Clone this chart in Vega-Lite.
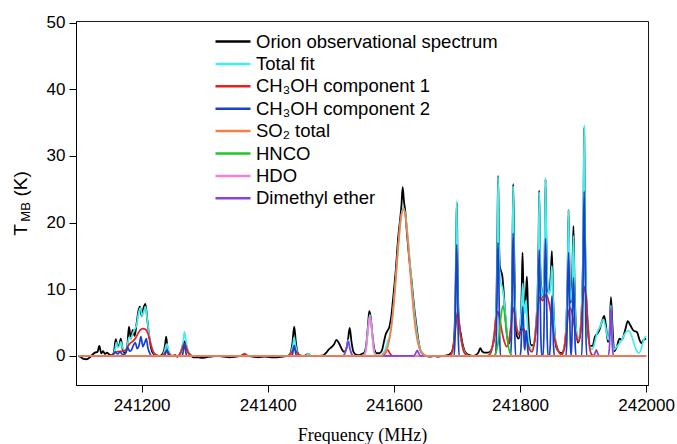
{
"$schema": "https://vega.github.io/schema/vega-lite/v6.json",
"width": 572, "height": 364,
"autosize": {"type": "none"},
"padding": {"left": 76, "top": 21, "right": 29, "bottom": 59},
"background": "white",
"config": {"view": {"stroke": "#1a1a1a", "strokeWidth": 1}, "font": "Liberation Sans"},
"layer": [
{
"data": {"values": [
{"s":"obs","f":241100,"T":0},{"s":"obs","f":241104,"T":-0.2},{"s":"obs","f":241108,"T":-0.45},{"s":"obs","f":241113,"T":-0.5},{"s":"obs","f":241118,"T":-0.2},{"s":"obs","f":241122,"T":0.2},{"s":"obs","f":241126,"T":0.5},{"s":"obs","f":241130,"T":0.6},{"s":"obs","f":241133,"T":1.5},{"s":"obs","f":241136,"T":0.4},{"s":"obs","f":241139,"T":0.7},{"s":"obs","f":241142,"T":0.3},{"s":"obs","f":241145,"T":0.5},{"s":"obs","f":241149,"T":0.2},{"s":"obs","f":241153,"T":0.1},{"s":"obs","f":241156,"T":0.5},{"s":"obs","f":241159,"T":2.5},{"s":"obs","f":241162,"T":1.4},{"s":"obs","f":241165,"T":1.8},{"s":"obs","f":241167,"T":2.6},{"s":"obs","f":241170,"T":1.0},{"s":"obs","f":241174,"T":0.4},{"s":"obs","f":241177,"T":1.2},{"s":"obs","f":241180,"T":4.4},{"s":"obs","f":241183,"T":2.6},{"s":"obs","f":241186,"T":3.9},{"s":"obs","f":241189,"T":3.0},{"s":"obs","f":241192,"T":4.8},{"s":"obs","f":241195,"T":6.8},{"s":"obs","f":241197.5,"T":7.4},{"s":"obs","f":241200,"T":6.0},{"s":"obs","f":241203,"T":7.2},{"s":"obs","f":241206,"T":7.8},{"s":"obs","f":241209,"T":5.5},{"s":"obs","f":241212,"T":3.0},{"s":"obs","f":241215,"T":1.2},{"s":"obs","f":241219,"T":0.3},{"s":"obs","f":241224,"T":0.1},{"s":"obs","f":241229,"T":0},{"s":"obs","f":241234,"T":0.4},{"s":"obs","f":241237,"T":1.5},{"s":"obs","f":241239,"T":2.9},{"s":"obs","f":241241,"T":1.2},{"s":"obs","f":241244,"T":0.3},{"s":"obs","f":241248,"T":0},{"s":"obs","f":241253,"T":0.1},{"s":"obs","f":241257,"T":-0.1},{"s":"obs","f":241261,"T":0.3},{"s":"obs","f":241264,"T":1.1},{"s":"obs","f":241267,"T":2.2},{"s":"obs","f":241270,"T":1.8},{"s":"obs","f":241273,"T":0.7},{"s":"obs","f":241277,"T":0.2},{"s":"obs","f":241282,"T":-0.2},{"s":"obs","f":241290,"T":-0.2},{"s":"obs","f":241296,"T":-0.3},{"s":"obs","f":241302,"T":-0.2},{"s":"obs","f":241310,"T":-0.1},{"s":"obs","f":241320,"T":0},{"s":"obs","f":241330,"T":-0.1},{"s":"obs","f":241340,"T":-0.2},{"s":"obs","f":241350,"T":-0.1},{"s":"obs","f":241358,"T":0},{"s":"obs","f":241363,"T":0.3},{"s":"obs","f":241368,"T":0},{"s":"obs","f":241376,"T":-0.1},{"s":"obs","f":241385,"T":-0.2},{"s":"obs","f":241395,"T":-0.1},{"s":"obs","f":241405,"T":-0.2},{"s":"obs","f":241415,"T":-0.2},{"s":"obs","f":241424,"T":-0.1},{"s":"obs","f":241432,"T":0},{"s":"obs","f":241436,"T":0.4},{"s":"obs","f":241439,"T":1.8},{"s":"obs","f":241442,"T":4.4},{"s":"obs","f":241444.5,"T":2.2},{"s":"obs","f":241447,"T":0.6},{"s":"obs","f":241451,"T":0.1},{"s":"obs","f":241458,"T":0},{"s":"obs","f":241464,"T":0.3},{"s":"obs","f":241468,"T":0},{"s":"obs","f":241478,"T":0},{"s":"obs","f":241488,"T":0.1},{"s":"obs","f":241493,"T":0.5},{"s":"obs","f":241497,"T":1.0},{"s":"obs","f":241501,"T":1.3},{"s":"obs","f":241505,"T":1.7},{"s":"obs","f":241509,"T":2.4},{"s":"obs","f":241513,"T":1.9},{"s":"obs","f":241517,"T":1.1},{"s":"obs","f":241521,"T":0.6},{"s":"obs","f":241524,"T":0.9},{"s":"obs","f":241527,"T":2.2},{"s":"obs","f":241530,"T":4.2},{"s":"obs","f":241533,"T":2.0},{"s":"obs","f":241536,"T":0.6},{"s":"obs","f":241540,"T":0.2},{"s":"obs","f":241545,"T":0.1},{"s":"obs","f":241549,"T":0.3},{"s":"obs","f":241553,"T":0.5},{"s":"obs","f":241556,"T":1.5},{"s":"obs","f":241559,"T":4.5},{"s":"obs","f":241561,"T":6.7},{"s":"obs","f":241563,"T":6.0},{"s":"obs","f":241566,"T":3.2},{"s":"obs","f":241569,"T":1.0},{"s":"obs","f":241573,"T":0.4},{"s":"obs","f":241577,"T":0.4},{"s":"obs","f":241581,"T":0.8},{"s":"obs","f":241584,"T":2.0},{"s":"obs","f":241587,"T":3.2},{"s":"obs","f":241590,"T":3.8},{"s":"obs","f":241593,"T":4.4},{"s":"obs","f":241596,"T":6.0},{"s":"obs","f":241599,"T":8.8},{"s":"obs","f":241603,"T":12.8},{"s":"obs","f":241607,"T":17.9},{"s":"obs","f":241610,"T":20.5},{"s":"obs","f":241612,"T":22.5},{"s":"obs","f":241614,"T":25.3},{"s":"obs","f":241616,"T":23.2},{"s":"obs","f":241618,"T":21.8},{"s":"obs","f":241621,"T":18.2},{"s":"obs","f":241624,"T":15.0},{"s":"obs","f":241628,"T":11.4},{"s":"obs","f":241632,"T":7.5},{"s":"obs","f":241636,"T":4.4},{"s":"obs","f":241639,"T":2.3},{"s":"obs","f":241642,"T":0.9},{"s":"obs","f":241646,"T":0.3},{"s":"obs","f":241651,"T":0},{"s":"obs","f":241657,"T":-0.1},{"s":"obs","f":241664,"T":0},{"s":"obs","f":241671,"T":-0.1},{"s":"obs","f":241678,"T":0},{"s":"obs","f":241684,"T":0.1},{"s":"obs","f":241688,"T":0.2},{"s":"obs","f":241692,"T":0.6},{"s":"obs","f":241695,"T":2.0},{"s":"obs","f":241697.5,"T":8.0},{"s":"obs","f":241699,"T":18.0},{"s":"obs","f":241699.8,"T":23.0},{"s":"obs","f":241700.8,"T":16.0},{"s":"obs","f":241702,"T":8.0},{"s":"obs","f":241704,"T":4.5},{"s":"obs","f":241706,"T":3.4},{"s":"obs","f":241709,"T":1.8},{"s":"obs","f":241712,"T":0.8},{"s":"obs","f":241716,"T":0.3},{"s":"obs","f":241721,"T":0.1},{"s":"obs","f":241726,"T":0},{"s":"obs","f":241731,"T":0.2},{"s":"obs","f":241734,"T":0.5},{"s":"obs","f":241737,"T":1.15},{"s":"obs","f":241740,"T":0.7},{"s":"obs","f":241744,"T":0.5},{"s":"obs","f":241748,"T":0.5},{"s":"obs","f":241752,"T":0.6},{"s":"obs","f":241755,"T":1.0},{"s":"obs","f":241758,"T":2.0},{"s":"obs","f":241761,"T":4.5},{"s":"obs","f":241763,"T":10.0},{"s":"obs","f":241764.3,"T":19.0},{"s":"obs","f":241765.3,"T":27.0},{"s":"obs","f":241766.5,"T":19.0},{"s":"obs","f":241768,"T":13.5},{"s":"obs","f":241770,"T":12.7},{"s":"obs","f":241772,"T":12.0},{"s":"obs","f":241774,"T":9.8},{"s":"obs","f":241776,"T":7.0},{"s":"obs","f":241779,"T":3.5},{"s":"obs","f":241782,"T":1.8},{"s":"obs","f":241785,"T":3.0},{"s":"obs","f":241787.5,"T":10.0},{"s":"obs","f":241789.3,"T":25.8},{"s":"obs","f":241790.7,"T":16.0},{"s":"obs","f":241792.5,"T":7.0},{"s":"obs","f":241795,"T":3.0},{"s":"obs","f":241798,"T":2.6},{"s":"obs","f":241801,"T":5.0},{"s":"obs","f":241802.8,"T":10.0},{"s":"obs","f":241804,"T":15.5},{"s":"obs","f":241805.5,"T":10.0},{"s":"obs","f":241807.3,"T":7.0},{"s":"obs","f":241809.5,"T":9.5},{"s":"obs","f":241811,"T":11.9},{"s":"obs","f":241812.7,"T":7.0},{"s":"obs","f":241815,"T":2.8},{"s":"obs","f":241818,"T":1.6},{"s":"obs","f":241822,"T":1.6},{"s":"obs","f":241825,"T":4.0},{"s":"obs","f":241828,"T":9.5},{"s":"obs","f":241829.5,"T":17.0},{"s":"obs","f":241830.5,"T":24.8},{"s":"obs","f":241831.8,"T":15.0},{"s":"obs","f":241834,"T":10.0},{"s":"obs","f":241836.5,"T":8.8},{"s":"obs","f":241839,"T":14.0},{"s":"obs","f":241840.5,"T":26.5},{"s":"obs","f":241842,"T":16.0},{"s":"obs","f":241844,"T":10.0},{"s":"obs","f":241846.5,"T":9.5},{"s":"obs","f":241849,"T":12.5},{"s":"obs","f":241850.6,"T":15.7},{"s":"obs","f":241852.5,"T":9.0},{"s":"obs","f":241855,"T":3.5},{"s":"obs","f":241858,"T":1.2},{"s":"obs","f":241862,"T":0.6},{"s":"obs","f":241866,"T":0.4},{"s":"obs","f":241870,"T":1.2},{"s":"obs","f":241873,"T":4.0},{"s":"obs","f":241875.5,"T":12.0},{"s":"obs","f":241877,"T":21.9},{"s":"obs","f":241878.5,"T":13.0},{"s":"obs","f":241880.5,"T":8.0},{"s":"obs","f":241883,"T":12.5},{"s":"obs","f":241884.8,"T":19.5},{"s":"obs","f":241886.5,"T":11.0},{"s":"obs","f":241889,"T":4.0},{"s":"obs","f":241892,"T":2.0},{"s":"obs","f":241895,"T":3.0},{"s":"obs","f":241898,"T":7.5},{"s":"obs","f":241900.5,"T":18.0},{"s":"obs","f":241901.8,"T":34.2},{"s":"obs","f":241903,"T":20.0},{"s":"obs","f":241905,"T":9.0},{"s":"obs","f":241908,"T":3.5},{"s":"obs","f":241911,"T":1.5},{"s":"obs","f":241915,"T":1.5},{"s":"obs","f":241919,"T":2.9},{"s":"obs","f":241923,"T":3.4},{"s":"obs","f":241926,"T":3.9},{"s":"obs","f":241930,"T":5.2},{"s":"obs","f":241933.5,"T":6.0},{"s":"obs","f":241936.5,"T":4.4},{"s":"obs","f":241939.5,"T":2.1},{"s":"obs","f":241942,"T":3.4},{"s":"obs","f":241944.2,"T":8.8},{"s":"obs","f":241946.7,"T":4.4},{"s":"obs","f":241949.4,"T":0.7},{"s":"obs","f":241953.7,"T":1.4},{"s":"obs","f":241957.8,"T":2.6},{"s":"obs","f":241961.6,"T":2.4},{"s":"obs","f":241966.8,"T":3.9},{"s":"obs","f":241971,"T":5.2},{"s":"obs","f":241975,"T":4.6},{"s":"obs","f":241980,"T":3.8},{"s":"obs","f":241985.4,"T":3.6},{"s":"obs","f":241989.6,"T":2.4},{"s":"obs","f":241992.5,"T":1.9},{"s":"obs","f":241996,"T":2.4},{"s":"obs","f":242000,"T":2.6},

{"s":"fit","f":241100,"T":0},{"s":"fit","f":241150,"T":0},{"s":"fit","f":241155,"T":0.3},{"s":"fit","f":241158,"T":1.0},{"s":"fit","f":241160,"T":2.0},{"s":"fit","f":241162,"T":1.3},{"s":"fit","f":241165,"T":1.5},{"s":"fit","f":241167,"T":2.1},{"s":"fit","f":241170,"T":1.2},{"s":"fit","f":241174,"T":0.8},{"s":"fit","f":241177,"T":1.3},{"s":"fit","f":241180,"T":2.8},{"s":"fit","f":241183,"T":2.6},{"s":"fit","f":241186,"T":3.4},{"s":"fit","f":241189,"T":4.0},{"s":"fit","f":241192,"T":4.6},{"s":"fit","f":241195,"T":6.3},{"s":"fit","f":241198,"T":7.2},{"s":"fit","f":241201,"T":6.0},{"s":"fit","f":241204,"T":6.8},{"s":"fit","f":241206,"T":7.4},{"s":"fit","f":241209,"T":5.5},{"s":"fit","f":241212,"T":3.2},{"s":"fit","f":241216,"T":1.4},{"s":"fit","f":241220,"T":0.4},{"s":"fit","f":241226,"T":0},{"s":"fit","f":241233,"T":0},{"s":"fit","f":241236,"T":0.6},{"s":"fit","f":241240,"T":1.8},{"s":"fit","f":241243,"T":0.8},{"s":"fit","f":241247,"T":0.1},{"s":"fit","f":241252,"T":0},{"s":"fit","f":241259,"T":0},{"s":"fit","f":241263,"T":0.9},{"s":"fit","f":241266,"T":2.2},{"s":"fit","f":241268,"T":3.6},{"s":"fit","f":241270,"T":2.6},{"s":"fit","f":241273,"T":1.0},{"s":"fit","f":241277,"T":0.3},{"s":"fit","f":241282,"T":0},{"s":"fit","f":241358,"T":0},{"s":"fit","f":241361,"T":0.2},{"s":"fit","f":241363.5,"T":0.4},{"s":"fit","f":241366,"T":0.2},{"s":"fit","f":241369,"T":0},{"s":"fit","f":241433,"T":0},{"s":"fit","f":241437,"T":0.5},{"s":"fit","f":241440,"T":1.6},{"s":"fit","f":241442,"T":2.8},{"s":"fit","f":241444,"T":1.6},{"s":"fit","f":241447,"T":0.5},{"s":"fit","f":241451,"T":0},{"s":"fit","f":241460,"T":0},{"s":"fit","f":241464,"T":0.3},{"s":"fit","f":241468,"T":0},{"s":"fit","f":241518,"T":0},{"s":"fit","f":241522,"T":0.3},{"s":"fit","f":241525,"T":1.2},{"s":"fit","f":241528,"T":2.4},{"s":"fit","f":241531,"T":0.9},{"s":"fit","f":241534,"T":0.1},{"s":"fit","f":241537,"T":0},{"s":"fit","f":241549,"T":0},{"s":"fit","f":241553,"T":0.2},{"s":"fit","f":241556,"T":1.1},{"s":"fit","f":241559,"T":4.0},{"s":"fit","f":241562,"T":6.2},{"s":"fit","f":241565,"T":4.0},{"s":"fit","f":241568,"T":1.1},{"s":"fit","f":241571,"T":0.2},{"s":"fit","f":241575,"T":0.1},{"s":"fit","f":241580,"T":0.1},{"s":"fit","f":241583,"T":0.4},{"s":"fit","f":241587,"T":1.1},{"s":"fit","f":241590,"T":2.2},{"s":"fit","f":241593,"T":2.8},{"s":"fit","f":241596,"T":4.5},{"s":"fit","f":241599,"T":7.0},{"s":"fit","f":241603,"T":11.5},{"s":"fit","f":241607,"T":16.5},{"s":"fit","f":241611,"T":20.5},{"s":"fit","f":241615,"T":22.2},{"s":"fit","f":241619,"T":20.8},{"s":"fit","f":241623,"T":17.0},{"s":"fit","f":241627,"T":12.4},{"s":"fit","f":241631,"T":8.0},{"s":"fit","f":241635,"T":4.6},{"s":"fit","f":241638,"T":2.6},{"s":"fit","f":241641,"T":1.3},{"s":"fit","f":241644,"T":0.7},{"s":"fit","f":241648,"T":0.2},{"s":"fit","f":241653,"T":0},{"s":"fit","f":241690,"T":0},{"s":"fit","f":241693,"T":0.5},{"s":"fit","f":241696,"T":2.5},{"s":"fit","f":241698,"T":9.0},{"s":"fit","f":241699,"T":17.5},{"s":"fit","f":241699.6,"T":23.2},{"s":"fit","f":241700.4,"T":17.5},{"s":"fit","f":241701.5,"T":9.5},{"s":"fit","f":241703,"T":5.2},{"s":"fit","f":241705,"T":3.3},{"s":"fit","f":241708,"T":1.8},{"s":"fit","f":241711,"T":0.8},{"s":"fit","f":241715,"T":0.2},{"s":"fit","f":241720,"T":0},{"s":"fit","f":241748,"T":0},{"s":"fit","f":241752,"T":0.3},{"s":"fit","f":241756,"T":1.2},{"s":"fit","f":241759,"T":3.0},{"s":"fit","f":241761.5,"T":5.5},{"s":"fit","f":241763.5,"T":11.0},{"s":"fit","f":241764.5,"T":19.0},{"s":"fit","f":241765.3,"T":26.9},{"s":"fit","f":241766.3,"T":19.0},{"s":"fit","f":241767.8,"T":12.5},{"s":"fit","f":241770,"T":10.8},{"s":"fit","f":241772,"T":10.3},{"s":"fit","f":241774,"T":9.0},{"s":"fit","f":241777,"T":6.0},{"s":"fit","f":241780,"T":3.0},{"s":"fit","f":241783,"T":2.3},{"s":"fit","f":241785.5,"T":4.5},{"s":"fit","f":241787.8,"T":12.0},{"s":"fit","f":241789.2,"T":25.5},{"s":"fit","f":241790.6,"T":14.0},{"s":"fit","f":241792.5,"T":7.0},{"s":"fit","f":241795,"T":4.2},{"s":"fit","f":241798,"T":3.6},{"s":"fit","f":241801,"T":5.5},{"s":"fit","f":241803,"T":8.5},{"s":"fit","f":241804.5,"T":10.9},{"s":"fit","f":241806,"T":7.8},{"s":"fit","f":241807.7,"T":6.3},{"s":"fit","f":241809.5,"T":8.3},{"s":"fit","f":241811,"T":6.0},{"s":"fit","f":241813,"T":3.2},{"s":"fit","f":241816,"T":1.3},{"s":"fit","f":241819,"T":0.8},{"s":"fit","f":241822,"T":1.8},{"s":"fit","f":241825,"T":4.5},{"s":"fit","f":241828,"T":9.5},{"s":"fit","f":241829.5,"T":15.5},{"s":"fit","f":241830.5,"T":24.6},{"s":"fit","f":241831.7,"T":15.5},{"s":"fit","f":241833.5,"T":10.0},{"s":"fit","f":241836.5,"T":9.0},{"s":"fit","f":241839,"T":15.0},{"s":"fit","f":241840.5,"T":26.7},{"s":"fit","f":241842,"T":16.5},{"s":"fit","f":241844,"T":10.5},{"s":"fit","f":241847,"T":9.3},{"s":"fit","f":241849,"T":11.0},{"s":"fit","f":241850.6,"T":13.5},{"s":"fit","f":241852.5,"T":8.5},{"s":"fit","f":241855,"T":3.5},{"s":"fit","f":241858,"T":1.6},{"s":"fit","f":241862,"T":0.5},{"s":"fit","f":241866,"T":0.2},{"s":"fit","f":241870,"T":1.2},{"s":"fit","f":241873,"T":4.0},{"s":"fit","f":241875.5,"T":12.0},{"s":"fit","f":241877,"T":21.9},{"s":"fit","f":241878.5,"T":13.0},{"s":"fit","f":241880.5,"T":8.3},{"s":"fit","f":241883,"T":10.5},{"s":"fit","f":241884.8,"T":18.0},{"s":"fit","f":241886.5,"T":10.0},{"s":"fit","f":241889,"T":4.0},{"s":"fit","f":241892,"T":2.5},{"s":"fit","f":241895,"T":3.5},{"s":"fit","f":241898,"T":7.5},{"s":"fit","f":241900.5,"T":20.0},{"s":"fit","f":241901.8,"T":34.5},{"s":"fit","f":241903,"T":21.0},{"s":"fit","f":241905,"T":9.8},{"s":"fit","f":241908,"T":4.5},{"s":"fit","f":241911,"T":1.2},{"s":"fit","f":241915,"T":1.0},{"s":"fit","f":241919,"T":2.2},{"s":"fit","f":241922,"T":3.4},{"s":"fit","f":241927,"T":4.4},{"s":"fit","f":241932,"T":5.5},{"s":"fit","f":241936,"T":4.2},{"s":"fit","f":241940,"T":2.4},{"s":"fit","f":241942.5,"T":4.0},{"s":"fit","f":241944.2,"T":7.6},{"s":"fit","f":241946,"T":3.8},{"s":"fit","f":241948.3,"T":0.9},{"s":"fit","f":241953.7,"T":1.4},{"s":"fit","f":241961.6,"T":2.4},{"s":"fit","f":241966.8,"T":3.4},{"s":"fit","f":241972,"T":3.8},{"s":"fit","f":241977.5,"T":2.9},{"s":"fit","f":241981,"T":1.8},{"s":"fit","f":241984.3,"T":0.9},{"s":"fit","f":241988.5,"T":0.4},{"s":"fit","f":241993.3,"T":1.4},{"s":"fit","f":241996,"T":2.4},{"s":"fit","f":242000,"T":3.0},

{"s":"m1","f":241100,"T":0},{"s":"m1","f":241150,"T":0},{"s":"m1","f":241155,"T":0.3},{"s":"m1","f":241160,"T":0.6},{"s":"m1","f":241165,"T":0.7},{"s":"m1","f":241170,"T":0.7},{"s":"m1","f":241174,"T":0.8},{"s":"m1","f":241178,"T":1.4},{"s":"m1","f":241182,"T":1.9},{"s":"m1","f":241186,"T":2.2},{"s":"m1","f":241190,"T":2.6},{"s":"m1","f":241194,"T":3.3},{"s":"m1","f":241198,"T":3.9},{"s":"m1","f":241202,"T":4.1},{"s":"m1","f":241206,"T":4.0},{"s":"m1","f":241209,"T":3.6},{"s":"m1","f":241212,"T":2.8},{"s":"m1","f":241215,"T":1.6},{"s":"m1","f":241218,"T":0.7},{"s":"m1","f":241222,"T":0.2},{"s":"m1","f":241227,"T":0},{"s":"m1","f":241233,"T":0},{"s":"m1","f":241236,"T":0.3},{"s":"m1","f":241240,"T":0.8},{"s":"m1","f":241244,"T":0.3},{"s":"m1","f":241248,"T":0},{"s":"m1","f":241258,"T":0},{"s":"m1","f":241262,"T":0.5},{"s":"m1","f":241265,"T":1.3},{"s":"m1","f":241268,"T":1.9},{"s":"m1","f":241271,"T":1.3},{"s":"m1","f":241274,"T":0.5},{"s":"m1","f":241278,"T":0.1},{"s":"m1","f":241282,"T":0},{"s":"m1","f":241357,"T":0},{"s":"m1","f":241360,"T":0.15},{"s":"m1","f":241363,"T":0.3},{"s":"m1","f":241366,"T":0.15},{"s":"m1","f":241369,"T":0},{"s":"m1","f":241432,"T":0},{"s":"m1","f":241436,"T":0.3},{"s":"m1","f":241439,"T":0.75},{"s":"m1","f":241442,"T":1.0},{"s":"m1","f":241445,"T":0.75},{"s":"m1","f":241448,"T":0.3},{"s":"m1","f":241452,"T":0},{"s":"m1","f":241582,"T":0},{"s":"m1","f":241586,"T":0.35},{"s":"m1","f":241590,"T":0.9},{"s":"m1","f":241594,"T":0.35},{"s":"m1","f":241598,"T":0},{"s":"m1","f":241688,"T":0},{"s":"m1","f":241692,"T":0.5},{"s":"m1","f":241695,"T":1.7},{"s":"m1","f":241698,"T":4.2},{"s":"m1","f":241701,"T":6.7},{"s":"m1","f":241704,"T":4.5},{"s":"m1","f":241707,"T":2.3},{"s":"m1","f":241710,"T":0.9},{"s":"m1","f":241714,"T":0.2},{"s":"m1","f":241718,"T":0},{"s":"m1","f":241748,"T":0},{"s":"m1","f":241752,"T":0.2},{"s":"m1","f":241755,"T":0.9},{"s":"m1","f":241758,"T":2.4},{"s":"m1","f":241761,"T":4.9},{"s":"m1","f":241764.5,"T":6.7},{"s":"m1","f":241768,"T":5.5},{"s":"m1","f":241772,"T":3.4},{"s":"m1","f":241776,"T":1.9},{"s":"m1","f":241779,"T":1.4},{"s":"m1","f":241782,"T":1.9},{"s":"m1","f":241785,"T":4.0},{"s":"m1","f":241789.5,"T":7.2},{"s":"m1","f":241793,"T":5.4},{"s":"m1","f":241796,"T":3.6},{"s":"m1","f":241798,"T":3.2},{"s":"m1","f":241801,"T":3.6},{"s":"m1","f":241805.5,"T":4.1},{"s":"m1","f":241809,"T":3.3},{"s":"m1","f":241812,"T":2.0},{"s":"m1","f":241815,"T":1.0},{"s":"m1","f":241819,"T":0.6},{"s":"m1","f":241822,"T":1.5},{"s":"m1","f":241825,"T":3.8},{"s":"m1","f":241828,"T":7.0},{"s":"m1","f":241832,"T":8.9},{"s":"m1","f":241836,"T":8.3},{"s":"m1","f":241841.5,"T":9.2},{"s":"m1","f":241845,"T":8.4},{"s":"m1","f":241848,"T":7.0},{"s":"m1","f":241851,"T":5.0},{"s":"m1","f":241855,"T":2.6},{"s":"m1","f":241858.5,"T":1.4},{"s":"m1","f":241862,"T":0.5},{"s":"m1","f":241866,"T":0.2},{"s":"m1","f":241870,"T":1.0},{"s":"m1","f":241874,"T":4.0},{"s":"m1","f":241877,"T":6.5},{"s":"m1","f":241880,"T":7.15},{"s":"m1","f":241884,"T":5.8},{"s":"m1","f":241888,"T":3.6},{"s":"m1","f":241892.8,"T":2.15},{"s":"m1","f":241896,"T":3.5},{"s":"m1","f":241899,"T":7.5},{"s":"m1","f":241902.3,"T":10.4},{"s":"m1","f":241905,"T":8.8},{"s":"m1","f":241908,"T":4.5},{"s":"m1","f":241911,"T":0.9},{"s":"m1","f":241915,"T":0.1},{"s":"m1","f":241920,"T":0},{"s":"m1","f":242000,"T":0},

{"s":"m2","f":241100,"T":0},{"s":"m2","f":241150,"T":0},{"s":"m2","f":241155,"T":0.2},{"s":"m2","f":241158,"T":0.6},{"s":"m2","f":241162,"T":0.3},{"s":"m2","f":241166,"T":0.6},{"s":"m2","f":241170,"T":0.2},{"s":"m2","f":241174,"T":0.3},{"s":"m2","f":241178,"T":1.3},{"s":"m2","f":241181,"T":0.7},{"s":"m2","f":241184,"T":0.9},{"s":"m2","f":241187,"T":1.6},{"s":"m2","f":241190,"T":2.0},{"s":"m2","f":241193,"T":1.1},{"s":"m2","f":241196,"T":1.6},{"s":"m2","f":241199,"T":2.9},{"s":"m2","f":241202,"T":1.4},{"s":"m2","f":241205,"T":2.0},{"s":"m2","f":241207.5,"T":2.6},{"s":"m2","f":241210,"T":1.2},{"s":"m2","f":241213,"T":0.4},{"s":"m2","f":241216,"T":0},{"s":"m2","f":241236,"T":0},{"s":"m2","f":241237.5,"T":0.18},{"s":"m2","f":241238.8,"T":0.63},{"s":"m2","f":241240,"T":0.9},{"s":"m2","f":241241.2,"T":0.63},{"s":"m2","f":241242.5,"T":0.18},{"s":"m2","f":241244,"T":0},{"s":"m2","f":241264,"T":0},{"s":"m2","f":241265.5,"T":0.36},{"s":"m2","f":241266.8,"T":1.26},{"s":"m2","f":241268,"T":1.8},{"s":"m2","f":241269.2,"T":1.26},{"s":"m2","f":241270.5,"T":0.36},{"s":"m2","f":241272,"T":0},{"s":"m2","f":241438,"T":0},{"s":"m2","f":241439.5,"T":0.32},{"s":"m2","f":241440.8,"T":1.12},{"s":"m2","f":241442,"T":1.6},{"s":"m2","f":241443.2,"T":1.12},{"s":"m2","f":241444.5,"T":0.32},{"s":"m2","f":241446,"T":0},{"s":"m2","f":241695.6,"T":0},{"s":"m2","f":241697.1,"T":3.3},{"s":"m2","f":241698.4,"T":11.7},{"s":"m2","f":241699.6,"T":16.7},{"s":"m2","f":241700.8,"T":11.7},{"s":"m2","f":241702.1,"T":3.3},{"s":"m2","f":241703.6,"T":0},{"s":"m2","f":241761.2,"T":0},{"s":"m2","f":241762.7,"T":3.4},{"s":"m2","f":241764,"T":11.9},{"s":"m2","f":241765.2,"T":17.0},{"s":"m2","f":241766.4,"T":11.9},{"s":"m2","f":241767.7,"T":3.4},{"s":"m2","f":241769.2,"T":0},{"s":"m2","f":241785.2,"T":0},{"s":"m2","f":241786.7,"T":3.7},{"s":"m2","f":241788,"T":12.9},{"s":"m2","f":241789.2,"T":18.4},{"s":"m2","f":241790.4,"T":12.9},{"s":"m2","f":241791.7,"T":3.7},{"s":"m2","f":241793.2,"T":0},{"s":"m2","f":241800.3,"T":0},{"s":"m2","f":241801.8,"T":1.5},{"s":"m2","f":241803.1,"T":5.2},{"s":"m2","f":241804.3,"T":7.4},{"s":"m2","f":241805.5,"T":5.2},{"s":"m2","f":241806.8,"T":1.6},{"s":"m2","f":241807.7,"T":0.9},{"s":"m2","f":241808.8,"T":2.7},{"s":"m2","f":241810,"T":3.8},{"s":"m2","f":241811.2,"T":2.7},{"s":"m2","f":241812.5,"T":0.8},{"s":"m2","f":241814,"T":0},{"s":"m2","f":241826.5,"T":0},{"s":"m2","f":241828,"T":3.2},{"s":"m2","f":241829.3,"T":11.1},{"s":"m2","f":241830.5,"T":15.9},{"s":"m2","f":241831.7,"T":11.1},{"s":"m2","f":241833,"T":3.2},{"s":"m2","f":241834.5,"T":0},{"s":"m2","f":241836.5,"T":0},{"s":"m2","f":241838,"T":3.5},{"s":"m2","f":241839.3,"T":12.3},{"s":"m2","f":241840.5,"T":17.6},{"s":"m2","f":241841.7,"T":12.3},{"s":"m2","f":241843,"T":3.5},{"s":"m2","f":241844.5,"T":0},{"s":"m2","f":241846.6,"T":0},{"s":"m2","f":241848.1,"T":1.8},{"s":"m2","f":241849.4,"T":6.3},{"s":"m2","f":241850.6,"T":9.0},{"s":"m2","f":241851.8,"T":6.3},{"s":"m2","f":241853.1,"T":1.8},{"s":"m2","f":241854.6,"T":0},{"s":"m2","f":241873,"T":0},{"s":"m2","f":241874.5,"T":3.1},{"s":"m2","f":241875.8,"T":10.9},{"s":"m2","f":241877,"T":15.5},{"s":"m2","f":241878.2,"T":10.9},{"s":"m2","f":241879.5,"T":3.1},{"s":"m2","f":241881,"T":0},{"s":"m2","f":241882.3,"T":2.3},{"s":"m2","f":241883.6,"T":8.2},{"s":"m2","f":241884.8,"T":11.7},{"s":"m2","f":241886,"T":8.2},{"s":"m2","f":241887.3,"T":2.3},{"s":"m2","f":241888.8,"T":0},{"s":"m2","f":241897.8,"T":0},{"s":"m2","f":241899.3,"T":4.9},{"s":"m2","f":241900.6,"T":17.3},{"s":"m2","f":241901.8,"T":24.7},{"s":"m2","f":241903,"T":17.3},{"s":"m2","f":241904.3,"T":4.9},{"s":"m2","f":241905.8,"T":0},{"s":"m2","f":242000,"T":0},

{"s":"hnco","f":241100,"T":0},{"s":"hnco","f":241758,"T":0},{"s":"hnco","f":241761,"T":0.29},{"s":"hnco","f":241764,"T":1.2},{"s":"hnco","f":241767,"T":3.3},{"s":"hnco","f":241770,"T":6.1},{"s":"hnco","f":241773,"T":7.5},{"s":"hnco","f":241776,"T":6.1},{"s":"hnco","f":241779,"T":3.3},{"s":"hnco","f":241782,"T":1.2},{"s":"hnco","f":241785,"T":0.29},{"s":"hnco","f":241788,"T":0},{"s":"hnco","f":242000,"T":0},

{"s":"hdo","f":241100,"T":0},{"s":"hdo","f":241550,"T":0},{"s":"hdo","f":241553,"T":0.1},{"s":"hdo","f":241556,"T":1.0},{"s":"hdo","f":241559,"T":3.9},{"s":"hdo","f":241562,"T":6.0},{"s":"hdo","f":241565,"T":3.9},{"s":"hdo","f":241568,"T":1.0},{"s":"hdo","f":241571,"T":0.1},{"s":"hdo","f":241574,"T":0},{"s":"hdo","f":242000,"T":0},

{"s":"dme","f":241100,"T":0},{"s":"dme","f":241519,"T":0},{"s":"dme","f":241522,"T":0.3},{"s":"dme","f":241525,"T":1.2},{"s":"dme","f":241527.5,"T":2.2},{"s":"dme","f":241530,"T":1.2},{"s":"dme","f":241533,"T":0.3},{"s":"dme","f":241536,"T":0},{"s":"dme","f":241631,"T":0},{"s":"dme","f":241634,"T":0.3},{"s":"dme","f":241637,"T":0.8},{"s":"dme","f":241640,"T":0.3},{"s":"dme","f":241643,"T":0},{"s":"dme","f":241916,"T":0},{"s":"dme","f":241918.5,"T":0.3},{"s":"dme","f":241921,"T":0.9},{"s":"dme","f":241923.5,"T":0.3},{"s":"dme","f":241926,"T":0},{"s":"dme","f":241940,"T":0},{"s":"dme","f":241942,"T":1.5},{"s":"dme","f":241943.2,"T":5.0},{"s":"dme","f":241944.2,"T":7.2},{"s":"dme","f":241945.2,"T":5.0},{"s":"dme","f":241946.4,"T":1.5},{"s":"dme","f":241948.4,"T":0},{"s":"dme","f":242000,"T":0},

{"s":"so2","f":241100,"T":0},{"s":"so2","f":241580,"T":0},{"s":"so2","f":241583,"T":0.21},{"s":"so2","f":241587,"T":0.63},{"s":"so2","f":241591,"T":1.6},{"s":"so2","f":241595,"T":3.6},{"s":"so2","f":241599,"T":6.9},{"s":"so2","f":241603,"T":11.4},{"s":"so2","f":241607,"T":16.5},{"s":"so2","f":241611,"T":20.5},{"s":"so2","f":241615,"T":22.0},{"s":"so2","f":241619,"T":20.5},{"s":"so2","f":241623,"T":16.5},{"s":"so2","f":241627,"T":11.4},{"s":"so2","f":241631,"T":6.9},{"s":"so2","f":241635,"T":3.6},{"s":"so2","f":241639,"T":1.6},{"s":"so2","f":241643,"T":0.63},{"s":"so2","f":241647,"T":0.21},{"s":"so2","f":241651,"T":0},{"s":"so2","f":242000,"T":0}
]},
"encoding": {
  "x": {"field": "f", "type": "quantitative",
        "scale": {"domain": [241096, 242003], "nice": false, "zero": false},
        "axis": {"values": [241200, 241400, 241600, 241800, 242000], "format": "d", "grid": false,
                 "labelFont": "Liberation Sans", "labelFontSize": 17, "labelColor": "#000", "labelPadding": 5,
                 "tickSize": 7, "tickColor": "#000", "domainColor": "#000",
                 "title": "Frequency (MHz)", "titleFont": "Liberation Serif", "titleFontSize": 18,
                 "titleFontWeight": "normal", "titleColor": "#000", "titlePadding": 13}},
  "y": {"field": "T", "type": "quantitative",
        "scale": {"domain": [-4.36, 50.24], "nice": false, "zero": false},
        "axis": {"values": [0, 10, 20, 30, 40, 50], "grid": false, "title": null,
                 "labelFont": "Liberation Sans", "labelFontSize": 17, "labelColor": "#000", "labelPadding": 4,
                 "tickSize": 7, "tickColor": "#000", "domainColor": "#000"}},
  "color": {"field": "s", "type": "nominal",
        "scale": {"domain": ["obs", "fit", "m1", "m2", "so2", "hnco", "hdo", "dme"],
                  "range": ["#000000", "#3ef0f0", "#ee1c1c", "#1540d0", "#f5804a", "#22c422", "#f77ee0", "#8a3ee0"]},
        "legend": {"orient": "none", "legendX": 145.5, "legendY": 9, "title": null,
                   "labelExpr": "{'obs':'Orion observational spectrum','fit':'Total fit','m1':'CH₃OH component 1','m2':'CH₃OH component 2','so2':'SO₂ total','hnco':'HNCO','hdo':'HDO','dme':'Dimethyl ether'}[datum.label]",
                   "symbolType": "M-1.75,0H1.75", "symbolSize": 400, "symbolStrokeWidth": 2.5,
                   "labelFont": "Liberation Sans", "labelFontSize": 18.5, "labelColor": "#000", "labelLimit": 0,
                   "rowPadding": 1.4, "labelOffset": 11.5}}
},
"layer": [
  {"transform": [{"filter": "datum.s == 'obs'"}], "mark": {"type": "line", "interpolate": "monotone", "strokeWidth": 1.8, "clip": true}},
  {"transform": [{"filter": "datum.s == 'fit'"}], "mark": {"type": "line", "interpolate": "monotone", "strokeWidth": 1.7, "clip": true}},
  {"transform": [{"filter": "datum.s == 'm1'"}], "mark": {"type": "line", "interpolate": "monotone", "strokeWidth": 1.7, "clip": true}},
  {"transform": [{"filter": "datum.s == 'm2'"}], "mark": {"type": "line", "interpolate": "monotone", "strokeWidth": 1.7, "clip": true}},
  {"transform": [{"filter": "datum.s == 'hnco'"}], "mark": {"type": "line", "interpolate": "monotone", "strokeWidth": 1.7, "clip": true}},
  {"transform": [{"filter": "datum.s == 'hdo'"}], "mark": {"type": "line", "interpolate": "monotone", "strokeWidth": 1.7, "clip": true}},
  {"transform": [{"filter": "datum.s == 'dme'"}], "mark": {"type": "line", "interpolate": "monotone", "strokeWidth": 1.7, "clip": true}},
  {"transform": [{"filter": "datum.s == 'so2'"}], "mark": {"type": "line", "interpolate": "monotone", "strokeWidth": 1.8, "clip": true}}
]
},
{
"data": {"values": [{}]},
"mark": {"type": "text", "text": "T", "angle": 270, "font": "Liberation Sans", "fontSize": 19, "align": "center", "baseline": "middle", "color": "#000"},
"encoding": {"x": {"datum": 241009}, "y": {"datum": 18.9}}
},
{
"data": {"values": [{}]},
"mark": {"type": "text", "text": "MB", "angle": 270, "font": "Liberation Sans", "fontSize": 13, "align": "center", "baseline": "middle", "color": "#000"},
"encoding": {"x": {"datum": 241016}, "y": {"datum": 21.6}}
},
{
"data": {"values": [{}]},
"mark": {"type": "text", "text": "(K)", "angle": 270, "font": "Liberation Sans", "fontSize": 19, "align": "center", "baseline": "middle", "color": "#000"},
"encoding": {"x": {"datum": 241009}, "y": {"datum": 25.8}}
}
]
}
